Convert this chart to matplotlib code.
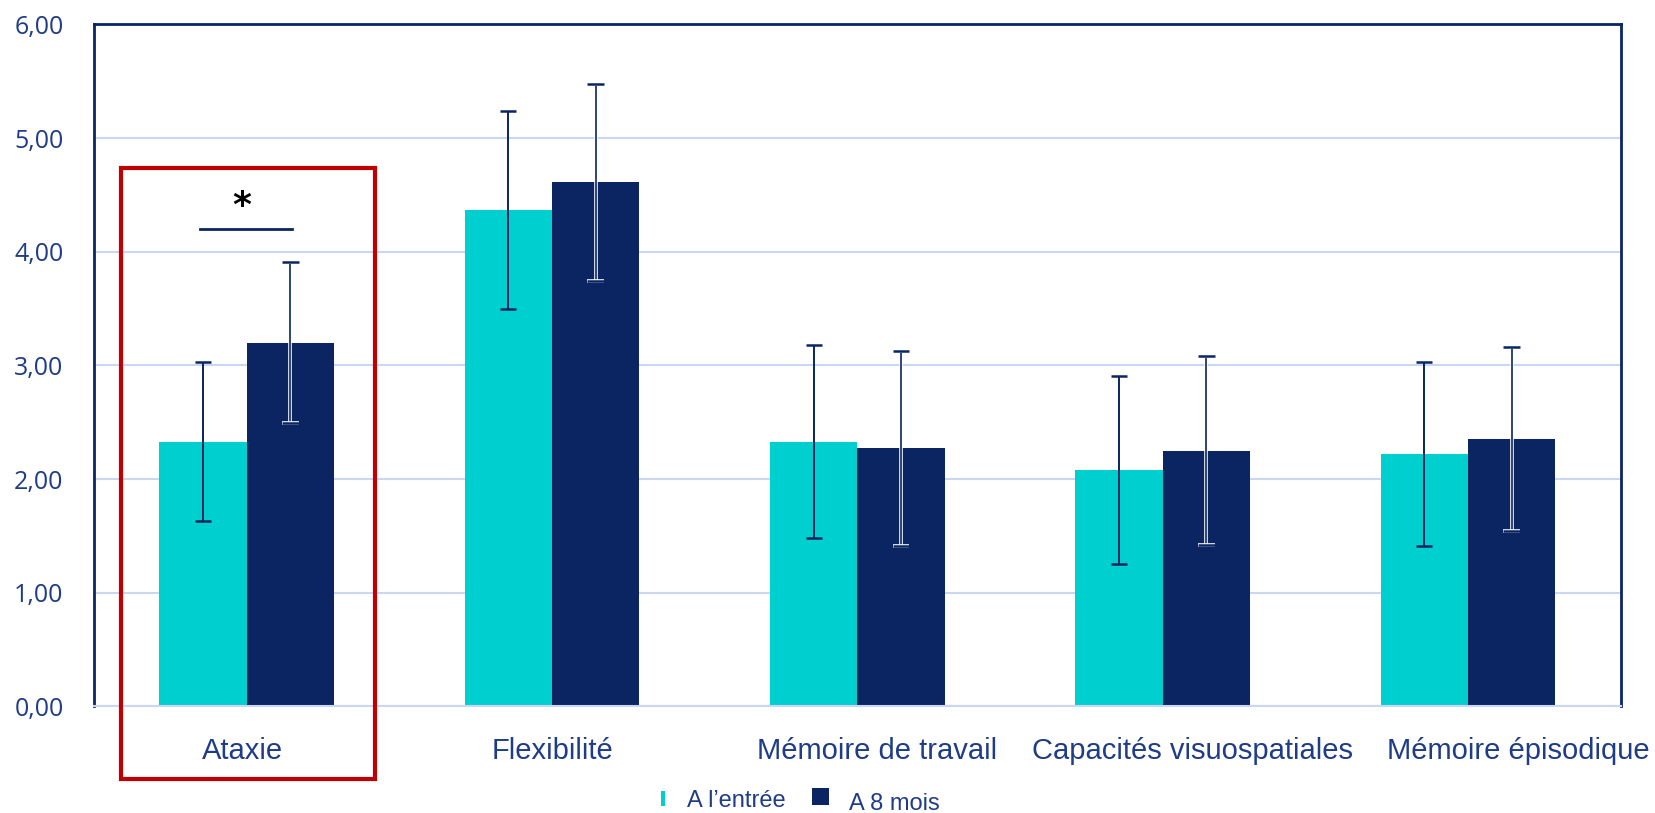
import numpy as np
import matplotlib
matplotlib.use("Agg")
import matplotlib.pyplot as plt
from matplotlib.patches import Rectangle
import matplotlib.patheffects as pe

# Scores moyens par domaine, à l'entrée et à 8 mois
categories = ["Ataxie", "Flexibilité", "Mémoire de travail",
              "Capacités visuospatiales", "Mémoire épisodique"]
entree = [2.33, 4.37, 2.33, 2.08, 2.22]
huit_mois = [3.20, 4.61, 2.27, 2.25, 2.35]
err_entree = [0.70, 0.87, 0.85, 0.83, 0.81]
err_huit_mois = [0.71, 0.87, 0.86, 0.83, 0.81]
yticks = [0, 1, 2, 3, 4, 5, 6]
legende = ["A l\u2019entrée", "A 8 mois"]

teal = "#00CFCF"
navy = "#0A2562"
grille = "#C9D7F5"
texte = "#1F3C88"

fig = plt.figure(figsize=(16.56, 8.13), dpi=100)
ax = fig.add_axes([0.0568, 0.131, 0.9219, 0.839])

x = np.arange(len(categories))
w = 0.286
ax.bar(x - w / 2, entree, w, color=teal, zorder=2)
ax.bar(x + w / 2, huit_mois, w, color=navy, zorder=2)

# barres d'erreur
ax.errorbar(x - w / 2, entree, yerr=err_entree, fmt="none", ecolor=navy,
            elinewidth=1.4, capsize=6, capthick=1.8, zorder=3)
eb = ax.errorbar(x + w / 2, huit_mois, yerr=err_huit_mois, fmt="none", ecolor=navy,
                 elinewidth=1.2, capsize=6, capthick=1.8, zorder=3)
for art in list(eb.lines[1]) + list(eb.lines[2]):
    art.set_path_effects([pe.Stroke(linewidth=2.6, foreground="white"), pe.Normal()])

ax.set_xlim(-0.5, 4.5)
ax.set_ylim(0, 6)
ax.set_yticks(yticks)
ax.set_yticklabels([f"{v:.2f}".replace(".", ",") for v in yticks],
                   fontsize=18, color=texte, family="Open Sans")
# les étiquettes longues sont décalées vers la droite
decalage = [-0.014, 0, 0.066, 0.099, 0.163]
ax.set_xticks(x + np.array(decalage))
ax.set_xticklabels(categories, fontsize=21, color=texte, family="Liberation Sans")
ax.tick_params(axis="y", length=0, pad=22)
ax.tick_params(axis="x", length=0, pad=22)
ax.yaxis.grid(True, color=grille, linewidth=1.5, zorder=0)
ax.set_axisbelow(True)
for s in ["left", "top", "right"]:
    ax.spines[s].set_color(navy)
    ax.spines[s].set_linewidth(2)
ax.spines["bottom"].set_color(grille)
ax.spines["bottom"].set_linewidth(1.5)

# cadre autour de l'ataxie et significativité
ax.add_patch(Rectangle((-0.4125, -0.64), 0.8325, 5.38, fill=False,
                       edgecolor="#C00000", linewidth=3, clip_on=False, zorder=5))
ax.plot([-0.153, 0.149], [4.20, 4.20], color=navy, linewidth=2, zorder=5)
ax.text(-0.016, 4.40, "*", ha="center", va="center", fontsize=26,
        fontweight="bold", color="black")

# légende
fig.add_artist(Rectangle((661 / 1656, 1 - 806 / 813), 4 / 1656, 15 / 813,
                         facecolor=teal, edgecolor="none"))
fig.text(687 / 1656, 1 - 801 / 813, legende[0], fontsize=17, color=texte,
         family="Liberation Sans", va="center")
fig.add_artist(Rectangle((812 / 1656, 1 - 805 / 813), 17 / 1656, 17 / 813,
                         facecolor=navy, edgecolor="none"))
fig.text(849 / 1656, 1 - 804 / 813, legende[1], fontsize=17, color=texte,
         family="Liberation Sans", va="center")

fig.savefig("out.png", dpi=100)
